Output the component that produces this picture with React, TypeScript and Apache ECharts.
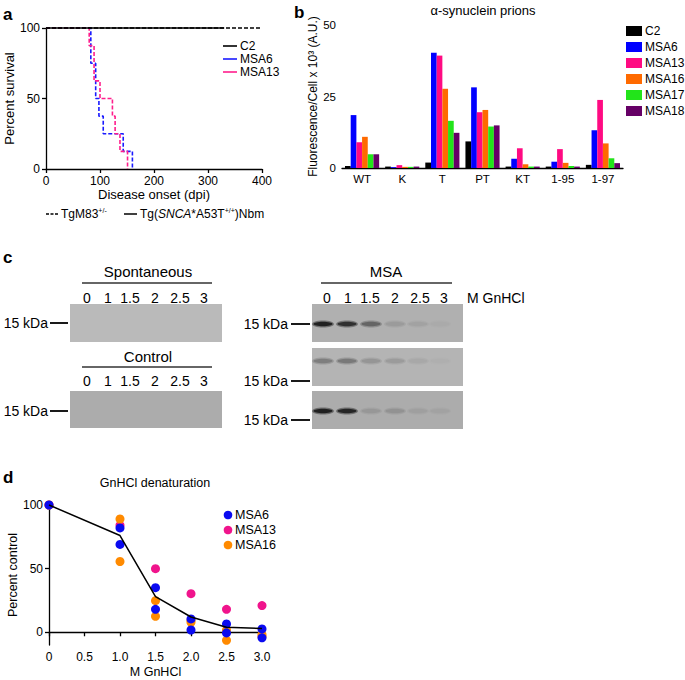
import React, { useEffect, useRef } from 'react';
import * as echarts from 'echarts';

const FONT = '"Liberation Sans", Arial, Helvetica, sans-serif';

// ---------- Panel a: survival ----------
const survLegend = ['C2', 'MSA6', 'MSA13'];
const survColors = ['#000000', '#1a1aff', '#ff1e8c'];
const survC2Tg = [[0, 100], [330, 100]];
const survC2M83 = [[0, 100], [400, 100]];
const survMSA6 = [[0, 100], [83, 75], [92, 50], [98, 37.5], [106, 25], [143, 12.5], [160, 0]];
const survMSA13 = [[0, 100], [80, 87.5], [89, 62.5], [100, 50], [123, 37.5], [128, 25], [137, 12.5], [151, 0]];

// ---------- Panel b: bars ----------
const bCategories = ['WT', 'K', 'T', 'PT', 'KT', '1-95', '1-97'];
const bNames = ['C2', 'MSA6', 'MSA13', 'MSA16', 'MSA17', 'MSA18'];
const bColors = ['#000000', '#0000ff', '#ff0a82', '#ff6a00', '#22e41a', '#660066'];
const bC2 = [0.7, 0.5, 1.9, 9.3, 0.5, 0.5, 1.1];
const bMSA6 = [18.5, 0.3, 40.3, 28.2, 3.2, 2.2, 13.2];
const bMSA13 = [9.0, 1.0, 39.3, 19.5, 6.9, 6.6, 23.8];
const bMSA16 = [10.9, 0.4, 27.7, 20.3, 1.3, 1.8, 8.6];
const bMSA17 = [4.8, 0.4, 16.5, 14.5, 0.5, 0.7, 3.4];
const bMSA18 = [4.8, 0.5, 12.3, 14.9, 0.5, 0.5, 1.7];
const bValues = [bC2, bMSA6, bMSA13, bMSA16, bMSA17, bMSA18];

// ---------- Panel c: blots ----------
const gnhclLanes = ['0', '1', '1.5', '2', '2.5', '3'];
const msaBlotTop = [0.95, 0.85, 0.5, 0.14, 0.09, 0.04];
const msaBlotMid = [0.35, 0.38, 0.2, 0.16, 0.08, 0.03];
const msaBlotBottom = [0.95, 0.92, 0.14, 0.18, 0.09, 0.07];

// ---------- Panel d: denaturation ----------
const dNames = ['MSA6', 'MSA13', 'MSA16'];
const dColors = ['#0a0af0', '#f0148c', '#ff8a00'];
const dMSA6 = [[0, 100], [1, 82], [1, 69], [1.5, 35], [1.5, 18], [2, 10.5], [2, 1.8], [2.5, 6.5], [2.5, -0.5], [3, 2.6], [3, -4.4]];
const dMSA13 = [[0, 100], [1, 84], [1.5, 50], [2, 30.3], [2.5, 18], [3, 21]];
const dMSA16 = [[0, 100], [1, 89], [1, 55.6], [1.5, 24.8], [1.5, 12.5], [2, 9.4], [2, 7.8], [2.5, 1.8], [2.5, -6.3], [3, -1.8], [3, -3.4]];
const dMean = [[0, 100], [1, 76], [1.5, 28], [2, 12], [2.5, 4], [3, 3]];

const axisCommon = {
  axisLine: { lineStyle: { color: '#000', width: 1.3 } },
  axisTick: { length: 4, lineStyle: { color: '#000', width: 1.3 } },
  axisLabel: { color: '#000', fontSize: 12, fontFamily: FONT, margin: 6 },
  splitLine: { show: false },
  nameTextStyle: { color: '#000', fontSize: 13, fontFamily: FONT },
};

function txt(x: number, y: number, text: string, fontSize: number, extra: any = {}) {
  return {
    type: 'text',
    x,
    y,
    silent: true,
    style: {
      text,
      fill: '#000',
      fontSize,
      fontFamily: FONT,
      align: extra.align || 'left',
      verticalAlign: 'middle',
      fontWeight: extra.fontWeight || 'normal',
      rich: extra.rich,
    },
  };
}

function line(x1: number, y1: number, x2: number, y2: number, color: string, width: number, dash?: number[]) {
  return {
    type: 'line',
    silent: true,
    shape: { x1, y1, x2, y2 },
    style: { stroke: color, lineWidth: width, lineDash: dash },
  };
}

function mix(intensity: number, bg: number) {
  const v = Math.round(bg - (bg - 25) * intensity);
  return `rgb(${v},${v},${v})`;
}

function blot(x: number, y: number, w: number, h: number, bg: number, bandY: number | null, bands: number[] | null, laneX: number[]) {
  const els: any[] = [
    { type: 'rect', silent: true, shape: { x, y, width: w, height: h }, style: { fill: `rgb(${bg},${bg},${bg})` } },
  ];
  if (bands && bandY !== null) {
    bands.forEach((v, i) => {
      els.push({
        type: 'ellipse',
        silent: true,
        shape: { cx: laneX[i], cy: bandY, rx: 11, ry: 3.6 },
        style: { fill: mix(v * 0.55, bg), opacity: 0.8 },
      });
      els.push({
        type: 'ellipse',
        silent: true,
        shape: { cx: laneX[i], cy: bandY, rx: 9.5, ry: 2.2 },
        style: { fill: mix(v, bg) },
      });
    });
  }
  return els;
}

function buildGraphic() {
  const g: any[] = [];
  // panel letters
  g.push(txt(3, 14, 'a', 17, { fontWeight: 'bold' }));
  g.push(txt(294, 12, 'b', 17, { fontWeight: 'bold' }));
  g.push(txt(3, 257, 'c', 17, { fontWeight: 'bold' }));
  g.push(txt(3, 477, 'd', 17, { fontWeight: 'bold' }));

  // panel a legend
  survLegend.forEach((n, i) => {
    const y = 46 + i * 13;
    g.push(line(223, y, 237, y, survColors[i], 1.6));
    g.push(txt(240, y, n, 12));
  });
  // panel a bottom legend
  g.push(line(46, 214, 58, 214, '#000', 1.5, [3, 1.5]));
  g.push(txt(61, 214, '{n|TgM83}{s|+/-}', 12, {
    rich: { n: { fontSize: 12, fontFamily: FONT, lineHeight: 14 }, s: { fontSize: 7, fontFamily: FONT, verticalAlign: 'top', lineHeight: 14 } },
  }));
  g.push(line(124, 214, 137, 214, '#000', 1.5));
  g.push(txt(140, 214, '{n|Tg(}{i|SNCA}{n|*A53T}{s|+/+}{n|)Nbm}', 12, {
    rich: {
      n: { fontSize: 12, fontFamily: FONT, lineHeight: 14 },
      i: { fontSize: 12, fontFamily: FONT, fontStyle: 'italic', lineHeight: 14 },
      s: { fontSize: 7, fontFamily: FONT, verticalAlign: 'top', lineHeight: 14 },
    },
  }));

  // panel b title + legend
  g.push(txt(483, 10, 'α-synuclein prions', 13, { align: 'center' }));
  bNames.forEach((n, i) => {
    const y = 31 + i * 16;
    g.push({ type: 'rect', silent: true, shape: { x: 626, y: y - 5, width: 16, height: 10 }, style: { fill: bColors[i] } });
    g.push(txt(645, y, n, 12));
  });

  // panel c
  const leftLaneX = [87, 108, 130, 155, 180, 204];
  const rightLaneX = leftLaneX.map((v) => v + 240);
  const bandX = [323, 347, 371, 395, 418, 440];
  g.push(txt(148, 271, 'Spontaneous', 15, { align: 'center' }));
  g.push(line(82, 283, 212, 283, '#333', 1.5));
  gnhclLanes.forEach((l, i) => g.push(txt(leftLaneX[i], 298, l, 14, { align: 'center' })));
  g.push(...blot(70, 304, 152, 38, 186, null, null, []));
  g.push(txt(48, 323, '15 kDa', 14, { align: 'right' }));
  g.push(line(50, 323, 68, 323, '#000', 1.8));

  g.push(txt(148, 356, 'Control', 15, { align: 'center' }));
  g.push(line(82, 367, 212, 367, '#333', 1.5));
  gnhclLanes.forEach((l, i) => g.push(txt(leftLaneX[i], 381, l, 14, { align: 'center' })));
  g.push(...blot(70, 391, 152, 37, 172, null, null, []));
  g.push(txt(48, 411, '15 kDa', 14, { align: 'right' }));
  g.push(line(50, 411, 68, 411, '#000', 1.8));

  g.push(txt(386, 271, 'MSA', 15, { align: 'center' }));
  g.push(line(321, 283, 452, 283, '#333', 1.5));
  gnhclLanes.forEach((l, i) => g.push(txt(rightLaneX[i], 298, l, 14, { align: 'center' })));
  g.push(txt(467, 298, 'M GnHCl', 14));
  g.push(...blot(312, 304, 151, 38, 176, 324, msaBlotTop, bandX));
  g.push(...blot(312, 348, 151, 38, 180, 361, msaBlotMid, bandX));
  g.push(...blot(312, 391, 151, 38, 172, 411, msaBlotBottom, bandX));
  [324, 381, 420].forEach((y) => {
    g.push(txt(288, y, '15 kDa', 14, { align: 'right' }));
    g.push(line(291, y, 310, y, '#000', 1.8));
  });

  // panel d title + legend
  g.push(txt(155, 483, 'GnHCl denaturation', 12.5, { align: 'center' }));
  dNames.forEach((n, i) => {
    const y = 515 + i * 15;
    g.push({ type: 'circle', silent: true, shape: { cx: 228, cy: y, r: 4.3 }, style: { fill: dColors[i] } });
    g.push(txt(235, y, n, 12.5));
  });
  return g;
}

export default function App() {
  const ref = useRef<HTMLDivElement>(null);
  useEffect(() => {
    if (!ref.current) return;
    const chart = echarts.init(ref.current, null, { renderer: 'svg' });
    const option: any = {
      animation: false,
      backgroundColor: '#ffffff',
      textStyle: { fontFamily: FONT },
      grid: [
        { left: 46, top: 28, width: 216, height: 141, outerBoundsMode: 'none' },
        { left: 342, top: 25, width: 281, height: 143, outerBoundsMode: 'none' },
        { left: 49, top: 505, width: 213, height: 140, outerBoundsMode: 'none' },
      ],
      xAxis: [
        {
          ...axisCommon,
          gridIndex: 0,
          type: 'value',
          min: 0,
          max: 400,
          interval: 100,
          name: 'Disease onset (dpi)',
          nameLocation: 'middle',
          nameGap: 18,
        },
        {
          ...axisCommon,
          gridIndex: 1,
          type: 'category',
          data: bCategories,
          axisTick: { show: false },
          axisLabel: { ...axisCommon.axisLabel, fontSize: 11.5, margin: 5 },
        },
        {
          ...axisCommon,
          gridIndex: 2,
          type: 'value',
          min: 0,
          max: 3,
          interval: 0.5,
          axisLabel: { ...axisCommon.axisLabel, formatter: (v: number) => (v === 0 ? '0' : v.toFixed(1)) },
          name: 'M GnHCl',
          nameLocation: 'middle',
          nameGap: 20,
          nameTextStyle: { ...axisCommon.nameTextStyle, fontSize: 12.5 },
        },
      ],
      yAxis: [
        {
          ...axisCommon,
          gridIndex: 0,
          type: 'value',
          min: 0,
          max: 100,
          interval: 50,
          name: 'Percent survival',
          nameLocation: 'middle',
          nameGap: 27,
        },
        {
          ...axisCommon,
          gridIndex: 1,
          type: 'value',
          min: 0,
          max: 50,
          interval: 25,
          axisLabel: { ...axisCommon.axisLabel, fontSize: 11.5 },
          name: 'Fluorescence/Cell x 10³ (A.U.)',
          nameLocation: 'middle',
          nameGap: 19,
          nameTextStyle: { ...axisCommon.nameTextStyle, fontSize: 12 },
        },
        {
          ...axisCommon,
          gridIndex: 2,
          type: 'value',
          min: -10,
          max: 100,
          axisTick: { ...axisCommon.axisTick, customValues: [0, 50, 100] },
          axisLabel: { ...axisCommon.axisLabel, customValues: [0, 50, 100] },
          name: 'Percent control',
          nameLocation: 'middle',
          nameGap: 25,
          nameTextStyle: { ...axisCommon.nameTextStyle, fontSize: 12.5 },
        },
      ],
      series: [
        {
          type: 'line', name: 'MSA6 (TgM83)', xAxisIndex: 0, yAxisIndex: 0, step: 'end', symbol: 'none',
          data: survMSA6, lineStyle: { color: survColors[1], width: 1.6, type: [4, 2] }, clip: false,
        },
        {
          type: 'line', name: 'MSA13 (TgM83)', xAxisIndex: 0, yAxisIndex: 0, step: 'end', symbol: 'none',
          data: survMSA13, lineStyle: { color: survColors[2], width: 1.6, type: [4, 2] }, clip: false,
        },
        {
          type: 'line', name: 'C2 (TgM83)', xAxisIndex: 0, yAxisIndex: 0, symbol: 'none',
          data: survC2M83, lineStyle: { color: '#000', width: 1.6, type: [4, 2] }, clip: false,
        },
        {
          type: 'line', name: 'C2 (Tg)', xAxisIndex: 0, yAxisIndex: 0, symbol: 'none',
          data: survC2Tg, lineStyle: { color: '#000', width: 1.6 }, clip: false,
        },
        ...bNames.map((n, i) => ({
          type: 'bar',
          name: n,
          xAxisIndex: 1,
          yAxisIndex: 1,
          data: bValues[i],
          barGap: '0%',
          barCategoryGap: '15%',
          itemStyle: { color: bColors[i] },
        })),
        {
          type: 'scatter', name: 'MSA13 pts', xAxisIndex: 2, yAxisIndex: 2, data: dMSA13,
          symbolSize: 9, itemStyle: { color: dColors[1], opacity: 1 }, clip: false,
        },
        {
          type: 'scatter', name: 'MSA16 pts', xAxisIndex: 2, yAxisIndex: 2, data: dMSA16,
          symbolSize: 9, itemStyle: { color: dColors[2], opacity: 1 }, clip: false,
        },
        {
          type: 'scatter', name: 'MSA6 pts', xAxisIndex: 2, yAxisIndex: 2, data: dMSA6,
          symbolSize: 9, itemStyle: { color: dColors[0], opacity: 1 }, clip: false,
        },
        {
          type: 'line', name: 'mean', xAxisIndex: 2, yAxisIndex: 2, data: dMean, symbol: 'none',
          lineStyle: { color: '#000', width: 1.5 }, z: 5, clip: false,
        },
      ],
      graphic: buildGraphic(),
    };
    chart.setOption(option);
    return () => chart.dispose();
  }, []);
  return (
    <div
      ref={ref}
      style={{ position: 'absolute', left: 0, top: 0, width: 685, height: 680, background: '#fff' }}
    />
  );
}
